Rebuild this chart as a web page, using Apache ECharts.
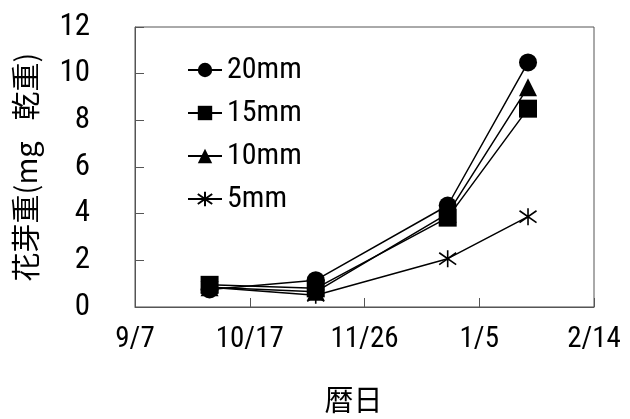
<!DOCTYPE html>
<html>
<head>
<meta charset="utf-8">
<script src="https://cdn.jsdelivr.net/npm/echarts@6/dist/echarts.min.js"></script>
<style>html,body{margin:0;padding:0;background:#fff;}#c{width:630px;height:419px;}</style>
</head>
<body>
<div id="c"></div>
<script>
// sampling dates (days after 9/7)
const dates = ['10/3', '11/9', '12/25', '1/22'];
const dayOffsets = [26, 63, 109, 137];
const s20 = [0.75, 1.15, 4.35, 10.48];
const s15 = [0.95, 0.8, 3.83, 8.5];
const s10 = [0.85, 0.65, 4.0, 9.42];
const s5 = [0.85, 0.5, 2.07, 3.87];
const xTickLabels = ['9/7', '10/17', '11/26', '1/5', '2/14'];
const seriesNames = ['20mm', '15mm', '10mm', '5mm'];

const numFont = '"Roboto Condensed", "DejaVu Sans Condensed", sans-serif';
const cjkFont = '"Noto Sans CJK JP", sans-serif';
const star = 'path://M5,0 L5,10 M1,1.5 L9,8.5 M1,8.5 L9,1.5';

function pts(vals) { return vals.map((v, i) => [dayOffsets[i], v]); }

const symbols = ['circle', 'rect', 'triangle', star];
const sizes = [18, 18, 18, 17];
const data = [s20, s15, s10, s5];

const chart = echarts.init(document.getElementById('c'));
chart.setOption({
  animation: false,
  backgroundColor: '#fff',
  grid: { left: 135, right: 36, top: 27, bottom: 109, show: true, borderColor: '#555', borderWidth: 1 },
  legend: {
    orient: 'vertical', left: 182, top: 50, itemWidth: 34, itemHeight: 18, itemGap: 13,
    textStyle: { fontFamily: numFont, fontSize: 30, lineHeight: 30, color: '#000' },
    data: seriesNames
  },
  xAxis: {
    type: 'value', min: 0, max: 160, interval: 40,
    axisLine: { lineStyle: { color: '#555' } },
    axisTick: { inside: true, length: 9, lineStyle: { color: '#555' } },
    splitLine: { show: false },
    axisLabel: { margin: 18, color: '#000', fontFamily: numFont, fontSize: 29,
      formatter: v => xTickLabels[Math.round(v / 40)] },
    name: '暦日', nameLocation: 'middle', nameGap: 78,
    nameTextStyle: { fontFamily: cjkFont, fontSize: 29, color: '#000', padding: [0, 22, 0, 0] }
  },
  yAxis: {
    type: 'value', min: 0, max: 12, interval: 2,
    axisLine: { show: true, lineStyle: { color: '#555' } },
    axisTick: { show: true, inside: true, length: 9, lineStyle: { color: '#555' } },
    splitLine: { show: false },
    axisLabel: { margin: 45, color: '#000', fontFamily: numFont, fontSize: 31 },
    name: '花芽重(mg\u2002 乾重)', nameLocation: 'middle', nameGap: 95, nameRotate: 90,
    nameTextStyle: { fontFamily: cjkFont, fontSize: 29, color: '#000' }
  },
  series: seriesNames.map((n, i) => ({
    name: n, type: 'line', data: pts(data[i]),
    symbol: symbols[i], symbolSize: sizes[i],
    lineStyle: { color: '#000', width: 1.5 },
    itemStyle: i === 3 ? { color: 'rgba(0,0,0,0)', borderColor: '#000', borderWidth: 1.6 }
                       : { color: '#000', borderColor: '#000', borderWidth: 0 },
    z: 10 - i
  }))
});
</script>
</body>
</html>
